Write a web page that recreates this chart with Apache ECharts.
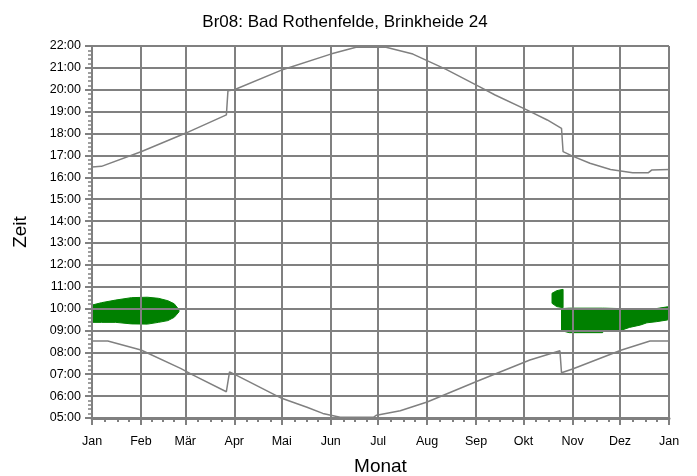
<!DOCTYPE html>
<html>
<head>
<meta charset="utf-8">
<script src="https://cdn.jsdelivr.net/npm/echarts@6/dist/echarts.min.js"></script>
<style>
  html, body { margin: 0; padding: 0; background: #fff; }
  #chart { width: 697px; height: 476px; }
</style>
</head>
<body>
<div id="chart"></div>
<script>
// month axis (day of year)
const monthStarts = [0, 31, 59, 90, 120, 151, 181, 212, 243, 273, 304, 334, 365];
const monthNames = ['Jan', 'Feb', 'Mär', 'Apr', 'Mai', 'Jun', 'Jul', 'Aug', 'Sep', 'Okt', 'Nov', 'Dez', 'Jan'];

// sunset (upper line), hours
const sunsetDays = [0, 6, 31, 59, 85, 86, 90, 121, 151, 167, 186, 203, 224, 245, 255, 275, 288, 297, 298, 304, 315, 328, 342, 352, 354, 365];
const sunsetHours = [16.47, 16.5, 17.17, 18.01, 18.85, 19.95, 20.0, 20.93, 21.63, 21.94, 21.94, 21.63, 20.93, 20.14, 19.76, 19.08, 18.62, 18.24, 17.17, 16.97, 16.64, 16.36, 16.21, 16.21, 16.33, 16.36];

// sunrise (lower line), hours
const sunriseDays = [0, 10, 31, 56, 64, 85, 87, 89, 120, 136, 146, 157, 178, 180, 195, 212, 244, 277, 296, 297, 304, 335, 353, 365];
const sunriseHours = [8.52, 8.52, 8.11, 7.27, 6.96, 6.20, 7.11, 7.04, 5.90, 5.49, 5.21, 5.03, 5.03, 5.13, 5.33, 5.73, 6.69, 7.65, 8.07, 7.07, 7.24, 8.11, 8.52, 8.52];

// shadow periods (green)
const winterDays = [0, 6, 15, 25, 35, 42, 48, 52, 55];
const winterTop = [10.16, 10.27, 10.39, 10.5, 10.52, 10.47, 10.36, 10.22, 9.95];
const winterBottom = [9.37, 9.37, 9.37, 9.3, 9.29, 9.37, 9.45, 9.6, 9.85];

const octDays = [291, 294, 298];
const octTop = [10.70, 10.82, 10.88];
const octBottom = [10.24, 10.09, 10.04];

const lateDays = [297, 302, 323, 324, 334, 340, 347, 351, 357, 364, 365];
const lateTop = [10.0, 10.02, 10.02, 10.02, 10.0, 9.97, 9.96, 9.96, 10.0, 10.08, 10.1];
const lateBottom = [8.99, 8.9, 8.9, 8.99, 8.99, 9.14, 9.25, 9.35, 9.4, 9.48, 9.55];

const GRAY = '#808080';
const FONT = 'Liberation Sans';

const days = Array.from({ length: 366 }, (_, i) => String(i));
const isMonthStart = (i) => monthStarts.indexOf(i) >= 0;
const quarterTicks = new Set();
for (let m = 0; m < monthStarts.length - 1; m++) {
  const a = monthStarts[m], b = monthStarts[m + 1];
  for (let k = 1; k < 4; k++) quarterTicks.add(a + Math.round((b - a) * k / 4));
}

const zip = (xs, ys) => xs.map((x, i) => [x, ys[i]]);

function shadeSeries(dd, top, bottom) {
  return {
    type: 'custom',
    xAxisIndex: 2,
    silent: true,
    data: dd.map((d, i) => [d, top[i], bottom[i]]),
    encode: { x: 0, y: [1, 2] },
    renderItem: function (params, api) {
      if (params.dataIndex !== 0) return;
      const pts = [];
      dd.forEach((d, i) => pts.push(api.coord([d, top[i]])));
      for (let i = dd.length - 1; i >= 0; i--) pts.push(api.coord([dd[i], bottom[i]]));
      return {
        type: 'polygon',
        shape: { points: pts },
        style: { fill: '#008000', stroke: '#008000', lineWidth: 1 }
      };
    }
  };
}

const chart = echarts.init(document.getElementById('chart'));
chart.setOption({
  animation: false,
  textStyle: { fontFamily: FONT },
  title: {
    text: 'Br08: Bad Rothenfelde, Brinkheide 24',
    left: 340,
    top: 9,
    textAlign: 'center',
    textStyle: { fontFamily: FONT, fontSize: 17, fontWeight: 'normal', color: '#000' }
  },
  grid: { left: 92, right: 28, top: 46, bottom: 58, outerBoundsMode: 'none', containLabel: false },
  xAxis: [
    {
      type: 'category',
      data: days,
      boundaryGap: false,
      position: 'bottom',
      z: 3,
      name: 'Monat',
      nameLocation: 'middle',
      nameGap: 39,
      nameTextStyle: { fontFamily: FONT, fontSize: 19, color: '#000' },
      axisLine: { lineStyle: { color: GRAY, width: 3 } },
      axisTick: { interval: (i) => isMonthStart(i), length: 7, lineStyle: { color: GRAY, width: 2 } },
      axisLabel: {
        interval: (i) => isMonthStart(i),
        formatter: (v, i) => monthNames[monthStarts.indexOf(Number(v))],
        margin: 17,
        fontFamily: FONT, fontSize: 12.5, color: '#000'
      },
      splitLine: { show: true, interval: (i) => isMonthStart(i), lineStyle: { color: GRAY, width: 2 } }
    },
    {
      type: 'category',
      data: days,
      boundaryGap: false,
      position: 'bottom',
      z: 3,
      axisLine: { show: false },
      axisTick: { interval: (i) => quarterTicks.has(i), length: 4, lineStyle: { color: GRAY, width: 2 } },
      axisLabel: { show: false },
      splitLine: { show: false }
    },
    { type: 'value', min: 0, max: 365, position: 'bottom', show: false }
  ],
  yAxis: {
    type: 'value',
    min: 5,
    max: 22,
    interval: 1,
    z: 3,
    name: 'Zeit',
    nameLocation: 'middle',
    nameGap: 62,
    nameRotate: 90,
    nameTextStyle: { fontFamily: FONT, fontSize: 19, color: '#000' },
    axisLine: { show: true, lineStyle: { color: GRAY, width: 2 } },
    axisTick: { show: true, length: 7, lineStyle: { color: GRAY, width: 2 } },
    minorTick: { show: true, splitNumber: 5, length: 4, lineStyle: { color: GRAY, width: 1.5 } },
    axisLabel: {
      margin: 11,
      formatter: (v) => String(v).padStart(2, '0') + ':00',
      fontFamily: FONT, fontSize: 12.5, color: '#000'
    },
    splitLine: { show: true, lineStyle: { color: GRAY, width: 2 } }
  },
  series: [
    shadeSeries(winterDays, winterTop, winterBottom),
    shadeSeries(octDays, octTop, octBottom),
    shadeSeries(lateDays, lateTop, lateBottom),
    {
      type: 'line',
      xAxisIndex: 2,
      z: 4,
      data: zip(sunsetDays, sunsetHours),
      showSymbol: false,
      symbol: 'none',
      lineStyle: { color: GRAY, width: 1.5 }
    },
    {
      type: 'line',
      xAxisIndex: 2,
      z: 4,
      data: zip(sunriseDays, sunriseHours),
      showSymbol: false,
      symbol: 'none',
      lineStyle: { color: GRAY, width: 1.5 }
    }
  ]
});
</script>
</body>
</html>
